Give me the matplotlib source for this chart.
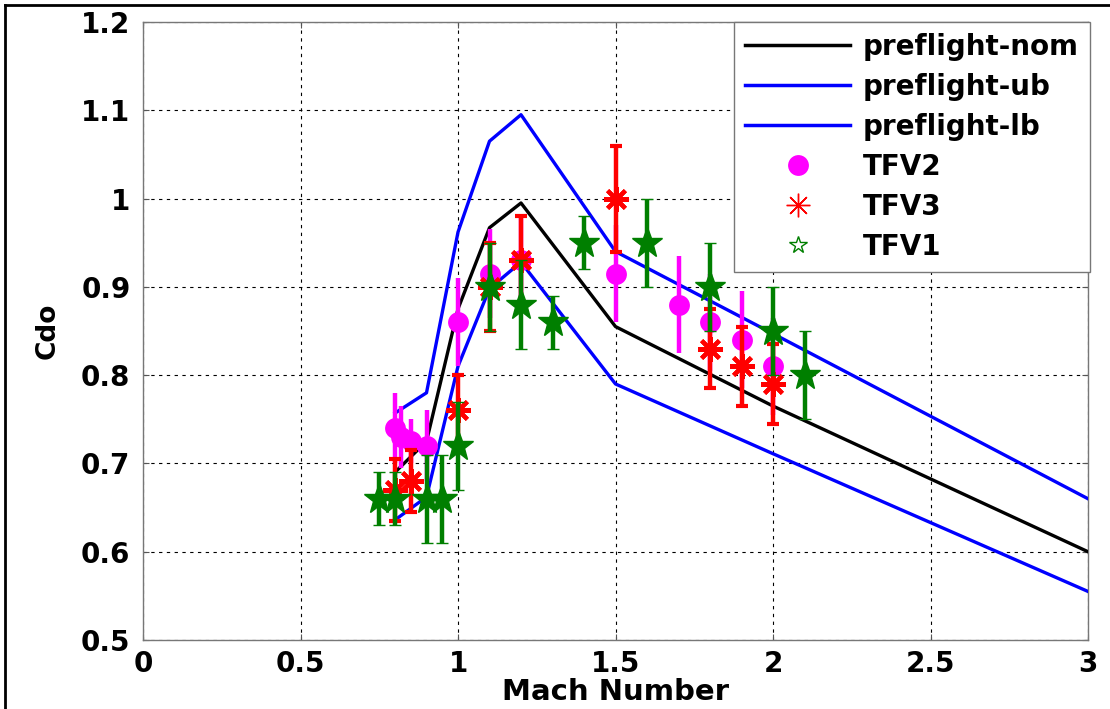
import matplotlib
matplotlib.use("Agg")
import matplotlib.pyplot as plt
from matplotlib.lines import Line2D

plt.rcParams['font.family'] = ['DejaVu Sans']
plt.rcParams['font.weight'] = 'bold'

# Preflight model curves
mach_line = [0.8, 0.9, 1.0, 1.1, 1.2, 1.5, 2.0, 3.0]
nom = [0.69, 0.725, 0.875, 0.967, 0.995, 0.855, 0.765, 0.60]
ub = [0.757, 0.78, 0.962, 1.065, 1.095, 0.94, 0.847, 0.66]
lb = [0.636, 0.662, 0.81, 0.898, 0.928, 0.79, 0.711, 0.555]

# Flight test data
tfv2_m = [0.80, 0.82, 0.85, 0.90, 1.00, 1.10, 1.20, 1.50, 1.70, 1.80, 1.90, 2.00]
tfv2_c = [0.74, 0.73, 0.725, 0.72, 0.86, 0.915, 0.93, 0.915, 0.88, 0.86, 0.84, 0.81]
tfv2_e = [0.04, 0.035, 0.025, 0.04, 0.05, 0.05, 0.05, 0.055, 0.055, 0.055, 0.055, 0.055]

tfv3_m = [0.80, 0.85, 1.00, 1.10, 1.20, 1.50, 1.80, 1.90, 2.00]
tfv3_c = [0.67, 0.68, 0.76, 0.90, 0.93, 1.00, 0.83, 0.81, 0.79]
tfv3_e = [0.035, 0.035, 0.04, 0.05, 0.05, 0.06, 0.045, 0.045, 0.045]

tfv1_m = [0.75, 0.80, 0.90, 0.95, 1.00, 1.10, 1.20, 1.30, 1.40, 1.60, 1.80, 2.00, 2.10]
tfv1_c = [0.66, 0.66, 0.66, 0.66, 0.72, 0.90, 0.88, 0.86, 0.95, 0.95, 0.90, 0.85, 0.80]
tfv1_e = [0.03, 0.03, 0.05, 0.05, 0.05, 0.05, 0.05, 0.03, 0.03, 0.05, 0.05, 0.05, 0.05]

xticks = [0, 0.5, 1, 1.5, 2, 2.5, 3]
xticklabels = ['0', '0.5', '1', '1.5', '2', '2.5', '3']
yticks = [0.5, 0.6, 0.7, 0.8, 0.9, 1.0, 1.1, 1.2]
yticklabels = ['0.5', '0.6', '0.7', '0.8', '0.9', '1', '1.1', '1.2']

MAG = '#FF00FF'
RED = '#FF0000'
GRN = '#007F00'
BLU = '#0000FF'

fig = plt.figure(figsize=(11.10, 7.09), dpi=100)
ax = fig.add_axes([143/1110, 1 - 640/709, (1088-143)/1110, (640-22)/709])

ax.plot(mach_line, nom, color='black', lw=2.4, zorder=3)
ax.plot(mach_line, ub, color=BLU, lw=2.4, zorder=3)
ax.plot(mach_line, lb, color=BLU, lw=2.4, zorder=3)

ax.errorbar(tfv2_m, tfv2_c, yerr=tfv2_e, fmt='o', color=MAG, ms=15, mew=0,
            elinewidth=3.2, capsize=4, capthick=3, zorder=4)
ax.errorbar(tfv3_m, tfv3_c, yerr=tfv3_e, fmt='none', ecolor=RED,
            elinewidth=3.2, capsize=4, capthick=3, zorder=5)
ax.plot(tfv3_m, tfv3_c, linestyle='none', marker=(8, 2, 0), color=RED, ms=18,
        mew=3, zorder=5)
ax.errorbar(tfv1_m, tfv1_c, yerr=tfv1_e, fmt='*', color=GRN, ms=23, mew=1,
            elinewidth=3.2, capsize=4, capthick=3, zorder=6)

ax.set_xlim(0, 3)
ax.set_ylim(0.5, 1.2)
ax.set_xticks(xticks)
ax.set_xticklabels(xticklabels)
ax.set_yticks(yticks)
ax.set_yticklabels(yticklabels)
ax.tick_params(direction='in', length=4, width=0.8, color='#555555',
               labelsize=20, top=True, right=True)
ax.tick_params(axis='y', pad=9)
ax.tick_params(axis='x', pad=7)
for lab in ax.get_xticklabels() + ax.get_yticklabels():
    lab.set_fontweight('bold')
for s in ax.spines.values():
    s.set_color('#777777')
    s.set_linewidth(1.0)

ax.grid(True, color='black', linestyle=(0, (3, 4)), linewidth=0.8)
ax.set_axisbelow(True)

ax.set_xlabel('Mach Number', fontsize=21, fontweight='bold', labelpad=0)
ax.set_ylabel('Cdo', fontsize=19, fontweight='bold', labelpad=15)

handles = [
    Line2D([], [], color='black', lw=2.5),
    Line2D([], [], color=BLU, lw=2.5),
    Line2D([], [], color=BLU, lw=2.5),
    Line2D([], [], linestyle='none', marker='o', color=MAG, ms=15, mew=0),
    Line2D([], [], linestyle='none', marker=(8, 2, 0), color=RED, ms=17, mew=1),
    Line2D([], [], linestyle='none', marker='*', markerfacecolor='white',
           markeredgecolor=GRN, ms=13, mew=1),
]
labels = ['preflight-nom', 'preflight-ub', 'preflight-lb', 'TFV2', 'TFV3', 'TFV1']
leg = ax.legend(handles, labels, loc='upper right',
                bbox_to_anchor=(1090/1110, 1 - 22/709),
                bbox_transform=fig.transFigure,
                prop={'size': 20, 'weight': 'bold'},
                frameon=True, fancybox=False, framealpha=1,
                edgecolor='#777777', handlelength=3.8, handletextpad=0.45,
                labelspacing=0.43, borderpad=0.4, borderaxespad=0)
leg.get_frame().set_linewidth(1.0)
leg.set_zorder(10)

# figure border (top and left)
fig.add_artist(Line2D([5/1110, 5/1110], [0, 1 - 5/709], color='black', lw=2,
                      transform=fig.transFigure))
fig.add_artist(Line2D([5/1110, 1], [1 - 5/709, 1 - 5/709], color='black', lw=2,
                      transform=fig.transFigure))

fig.savefig('out.png', dpi=100)
